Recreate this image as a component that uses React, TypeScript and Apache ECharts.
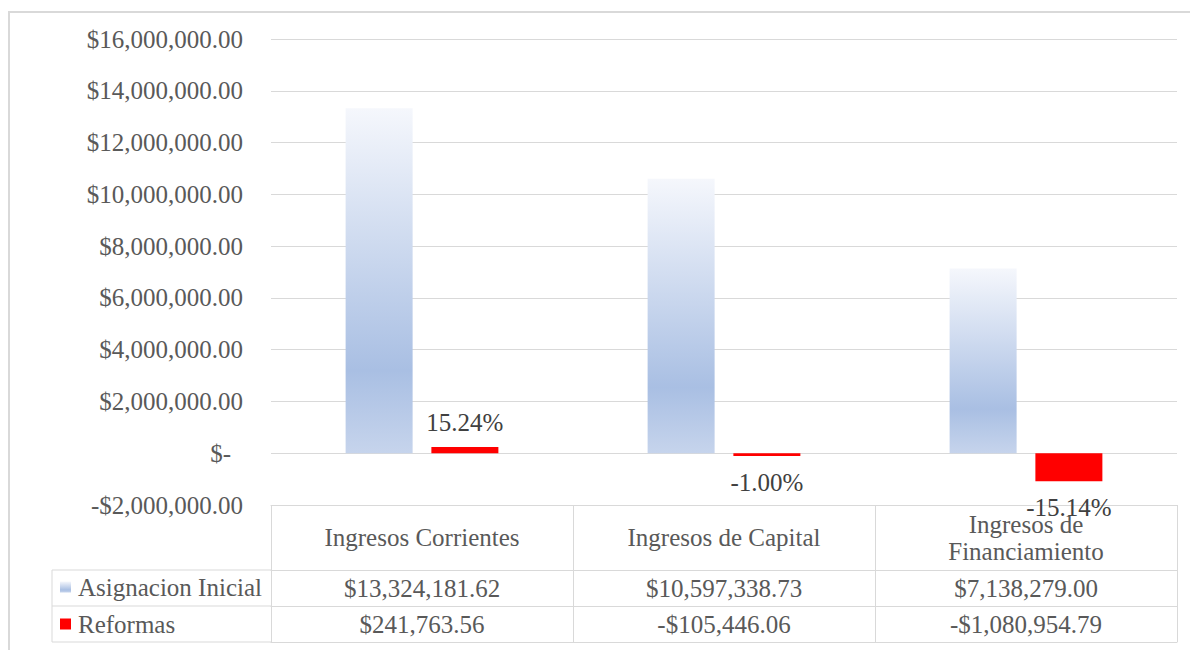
import React, { useEffect, useRef } from 'react';
import * as echarts from 'echarts';

const categories = ['Ingresos Corrientes', 'Ingresos de Capital', 'Ingresos de\nFinanciamiento'];
const seriesNames = ['Asignacion Inicial', 'Reformas'];
const asignacionInicial = [13324181.62, 10597338.73, 7138279.0];
const reformas = [241763.56, -105446.06, -1080954.79];
const reformasLabels = ['15.24%', '-1.00%', '-15.14%'];
const yMin = -2000000;
const yMax = 16000000;
const yStep = 2000000;

const FONT = '"Liberation Serif", "Times New Roman", serif';
const FS = 25;
const GRID_LEFT = 271;
const GRID_RIGHT_X = 1177;
const GRID_TOP = 39;
const TABLE_TOP = 505;
const HEADER_H = 65;
const ROW_H = 36;
const LEGEND_COL_LEFT = 52;
const W = 1190;
const H = 650;
const LINE = '#d9d9d9';
const TXT = '#595959';

function money(v: number): string {
  const s = Math.abs(v).toLocaleString('en-US', { minimumFractionDigits: 2, maximumFractionDigits: 2 });
  return (v < 0 ? '-$' : '$') + s;
}

export default function App() {
  const ref = useRef<HTMLDivElement>(null);
  useEffect(() => {
    if (!ref.current) return;
    const chart = echarts.init(ref.current, undefined, { renderer: 'svg' });
    const blueGrad = new echarts.graphic.LinearGradient(0, 0, 0, 1, [
      { offset: 0, color: '#f5f7fc' },
      { offset: 0.76, color: '#a9bfe3' },
      { offset: 1, color: '#c6d4ec' },
    ]);
    const row1 = TABLE_TOP + HEADER_H;
    const row2 = row1 + ROW_H;
    const row3 = row2 + ROW_H;
    const tableLines: any[] = [row1, row2, row3].map((y) => ({
      type: 'line',
      silent: true,
      shape: { x1: LEGEND_COL_LEFT, y1: y, x2: GRID_LEFT, y2: y },
      style: { stroke: LINE, lineWidth: 1 },
    }));
    tableLines.push({
      type: 'line',
      silent: true,
      shape: { x1: LEGEND_COL_LEFT, y1: row1, x2: LEGEND_COL_LEFT, y2: row3 },
      style: { stroke: LINE, lineWidth: 1 },
    });
    const baseX = {
      type: 'category',
      position: 'bottom',
      axisLine: { show: true, onZero: false, lineStyle: { color: LINE, width: 1 } },
      axisTick: { show: false },
      splitLine: { show: false },
    };
    chart.setOption({
      animation: false,
      backgroundColor: '#ffffff',
      textStyle: { fontFamily: FONT },
      grid: { left: GRID_LEFT, right: W - GRID_RIGHT_X, top: GRID_TOP, bottom: H - TABLE_TOP },
      legend: {
        orient: 'vertical',
        left: 60,
        top: row1 + 4,
        padding: 0,
        itemWidth: 11,
        itemHeight: 11,
        itemGap: 11,
        icon: 'rect',
        selectedMode: false,
        data: seriesNames,
        textStyle: { fontFamily: FONT, fontSize: FS, color: TXT, lineHeight: 26, padding: [0, 0, 0, 2] },
      },
      xAxis: [
        {
          ...baseX,
          data: categories,
          axisTick: { show: true, length: HEADER_H + 2 * ROW_H, interval: 0, lineStyle: { color: LINE } },
          axisLabel: {
            interval: 0,
            margin: HEADER_H / 2,
            verticalAlign: 'middle',
            fontFamily: FONT,
            fontSize: FS,
            lineHeight: 27,
            color: TXT,
          },
        },
        {
          ...baseX,
          offset: HEADER_H,
          data: asignacionInicial.map(money),
          axisLabel: { interval: 0, margin: ROW_H / 2, verticalAlign: 'middle', fontFamily: FONT, fontSize: FS, color: TXT },
        },
        {
          ...baseX,
          offset: HEADER_H + ROW_H,
          data: reformas.map(money),
          axisLabel: { interval: 0, margin: ROW_H / 2, verticalAlign: 'middle', fontFamily: FONT, fontSize: FS, color: TXT },
        },
        {
          ...baseX,
          offset: HEADER_H + 2 * ROW_H,
          data: categories,
          axisLabel: { show: false },
        },
      ],
      yAxis: {
        type: 'value',
        min: yMin,
        max: yMax,
        interval: yStep,
        axisLine: { show: false },
        axisTick: { show: false },
        splitLine: { show: true, lineStyle: { color: LINE, width: 1 } },
        axisLabel: {
          margin: 28,
          fontFamily: FONT,
          fontSize: FS,
          color: TXT,
          formatter: (v: number) => (v === 0 ? '{z|$-}' : money(v)),
          rich: { z: { fontFamily: FONT, fontSize: FS, color: TXT, padding: [0, 12, 0, 0] } },
        },
      },
      series: [
        {
          name: seriesNames[0],
          type: 'bar',
          data: asignacionInicial,
          barWidth: 67,
          barGap: '28%',
          itemStyle: { color: blueGrad },
        },
        {
          name: seriesNames[1],
          type: 'bar',
          data: reformas.map((v) => ({
            value: v,
            label: { position: v >= 0 ? 'top' : 'bottom', distance: v >= 0 ? 12 : 14 },
          })),
          barWidth: 67,
          barGap: '28%',
          itemStyle: { color: '#ff0000' },
          label: {
            show: true,
            fontFamily: FONT,
            fontSize: FS,
            color: '#404040',
            formatter: (p: any) => reformasLabels[p.dataIndex],
          },
        },
      ],
      graphic: [
        ...tableLines,
        {
          type: 'rect',
          silent: true,
          shape: { x: 9, y: 12, width: 1200, height: 700 },
          style: { fill: 'none', stroke: LINE, lineWidth: 2 },
        },
      ],
    });
    return () => chart.dispose();
  }, []);
  return <div ref={ref} style={{ position: 'absolute', left: 0, top: 0, width: W, height: H }} />;
}
